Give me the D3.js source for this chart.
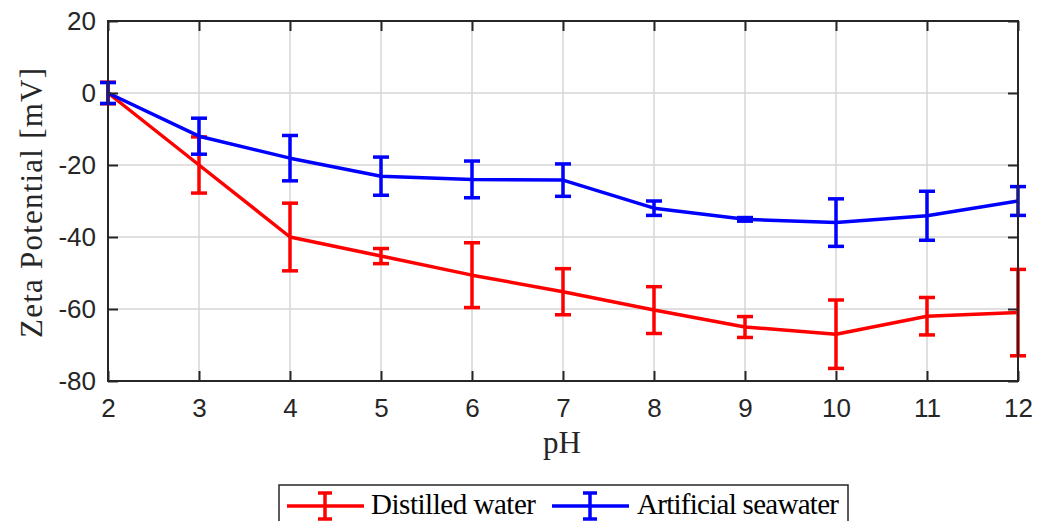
<!DOCTYPE html>
<html>
<head>
<meta charset="utf-8">
<script src="https://cdn.jsdelivr.net/npm/d3@7"></script>
<style>
  body { margin: 0; background: #fff; }
  svg { display: block; }
</style>
</head>
<body>
<script>
// data
const phValues = [2, 3, 4, 5, 6, 7, 8, 9, 10, 11, 12]
const distilled = [0, -20, -40, -45.3, -50.6, -55.2, -60.3, -65, -67, -62, -61]
const distilledErr = [3, 7.8, 9.4, 2.1, 9, 6.4, 6.5, 2.9, 9.5, 5.2, 12]
const seawater = [0, -12, -18.1, -23.1, -24, -24.2, -32, -35.1, -36, -34.1, -30]
const seawaterErr = [2.9, 5, 6.3, 5.3, 5.1, 4.5, 2, 0.5, 6.6, 6.8, 4]
const xTicks = [2, 3, 4, 5, 6, 7, 8, 9, 10, 11, 12]
const yTicks = [-80, -60, -40, -20, 0, 20]
const seriesNames = ['Distilled water', 'Artificial seawater']
const seriesColors = ['#ff0000', '#0000ff']

const W = 1047, H = 521
const m = { left: 108, right: 1018, top: 21, bottom: 381 }
const ink = '#262626'
const lw = 3.5

const svg = d3.select('body').append('svg')
  .attr('width', W).attr('height', H)

const x = d3.scaleLinear().domain([2, 12]).range([m.left, m.right])
const y = d3.scaleLinear().domain([-80, 20]).range([m.bottom, m.top])

// grid
const grid = svg.append('g')
grid.selectAll('.gx').data(xTicks).enter().append('line')
  .attr('x1', d => x(d)).attr('x2', d => x(d))
  .attr('y1', m.top).attr('y2', m.bottom)
  .attr('stroke', '#d6d6d6').attr('stroke-width', 1.5)
grid.selectAll('.gy').data(yTicks).enter().append('line')
  .attr('x1', m.left).attr('x2', m.right)
  .attr('y1', d => y(d)).attr('y2', d => y(d))
  .attr('stroke', '#d6d6d6').attr('stroke-width', 1.5)

// series
const series = [
  { vals: distilled, err: distilledErr, color: seriesColors[0] },
  { vals: seawater, err: seawaterErr, color: seriesColors[1] }
]
const line = d3.line().x((d, i) => x(phValues[i])).y(d => y(d))
const capW = 8

series.forEach(s => {
  const g = svg.append('g')
  g.append('path').datum(s.vals)
    .attr('d', line).attr('fill', 'none')
    .attr('stroke', s.color).attr('stroke-width', lw)
    .attr('stroke-linejoin', 'round')
  const bars = g.selectAll('.eb').data(s.vals).enter().append('g')
  bars.append('line')
    .attr('x1', (d, i) => x(phValues[i])).attr('x2', (d, i) => x(phValues[i]))
    .attr('y1', (d, i) => y(d + s.err[i])).attr('y2', (d, i) => y(d - s.err[i]))
    .attr('stroke', s.color).attr('stroke-width', lw)
  ;[1, -1].forEach(sign => {
    bars.append('line')
      .attr('x1', (d, i) => x(phValues[i]) - capW).attr('x2', (d, i) => x(phValues[i]) + capW)
      .attr('y1', (d, i) => y(d + sign * s.err[i])).attr('y2', (d, i) => y(d + sign * s.err[i]))
      .attr('stroke', s.color).attr('stroke-width', lw)
  })
})

// axes box
const axisG = svg.append('g')
axisG.append('rect')
  .attr('x', m.left).attr('y', m.top)
  .attr('width', m.right - m.left).attr('height', m.bottom - m.top)
  .attr('fill', 'none').attr('stroke', ink).attr('stroke-width', 2)

const fmt = d => String(d)
const xAxis = d3.axisBottom(x).tickValues(xTicks).tickFormat(fmt).tickSizeInner(-10).tickSizeOuter(0).tickPadding(18)
const xAxisTop = d3.axisTop(x).tickValues(xTicks).tickSizeInner(-10).tickSizeOuter(0).tickFormat('')
const yAxis = d3.axisLeft(y).tickValues(yTicks).tickFormat(fmt).tickSizeInner(-10).tickSizeOuter(0).tickPadding(12)
const yAxisRight = d3.axisRight(y).tickValues(yTicks).tickSizeInner(-10).tickSizeOuter(0).tickFormat('')

const styleAxis = g => {
  g.attr('font-family', 'Liberation Sans, Arial, sans-serif').attr('font-size', 26)
  g.select('.domain').remove()
  g.selectAll('.tick line').attr('stroke', ink).attr('stroke-width', 2)
  g.selectAll('.tick text').attr('fill', ink)
}

axisG.append('g').attr('transform', `translate(0,${m.bottom})`).call(xAxis).call(styleAxis)
axisG.append('g').attr('transform', `translate(0,${m.top})`).call(xAxisTop).call(styleAxis)
axisG.append('g').attr('transform', `translate(${m.left},0)`).call(yAxis).call(styleAxis)
axisG.append('g').attr('transform', `translate(${m.right},0)`).call(yAxisRight).call(styleAxis)

// axis labels
const serif = 'Liberation Serif, Times New Roman, serif'
svg.append('text')
  .attr('x', 543).attr('y', 453)
  .attr('fill', ink)
  .attr('font-family', serif).attr('font-size', 31)
  .text('pH')
svg.append('text')
  .attr('transform', `translate(42,338) rotate(-90)`)
  .attr('fill', ink)
  .attr('font-family', serif).attr('font-size', 31)
  .attr('textLength', 270).attr('lengthAdjust', 'spacing')
  .text('Zeta Potential [mV]')

// legend
const leg = svg.append('g')
leg.append('rect')
  .attr('x', 279).attr('y', 485).attr('width', 569).attr('height', 60)
  .attr('fill', '#fff').attr('stroke', ink).attr('stroke-width', 1.5)
const legItems = [
  { name: seriesNames[0], color: seriesColors[0], x0: 287, tx: 371, tw: 165 },
  { name: seriesNames[1], color: seriesColors[1], x0: 552, tx: 637, tw: 202 }
]
legItems.forEach(it => {
  const cy = 506
  const cx = it.x0 + 38
  leg.append('line').attr('x1', it.x0).attr('x2', it.x0 + 77)
    .attr('y1', cy).attr('y2', cy).attr('stroke', it.color).attr('stroke-width', lw)
  leg.append('line').attr('x1', cx).attr('x2', cx)
    .attr('y1', cy - 13).attr('y2', cy + 13).attr('stroke', it.color).attr('stroke-width', lw)
  ;[-13, 13].forEach(dy => {
    leg.append('line').attr('x1', cx - 7).attr('x2', cx + 7)
      .attr('y1', cy + dy).attr('y2', cy + dy).attr('stroke', it.color).attr('stroke-width', lw)
  })
  leg.append('text').attr('x', it.tx).attr('y', 514)
    .attr('fill', '#000')
    .attr('font-family', serif).attr('font-size', 29)
    .attr('textLength', it.tw).attr('lengthAdjust', 'spacing')
    .text(it.name)
})
</script>
</body>
</html>
